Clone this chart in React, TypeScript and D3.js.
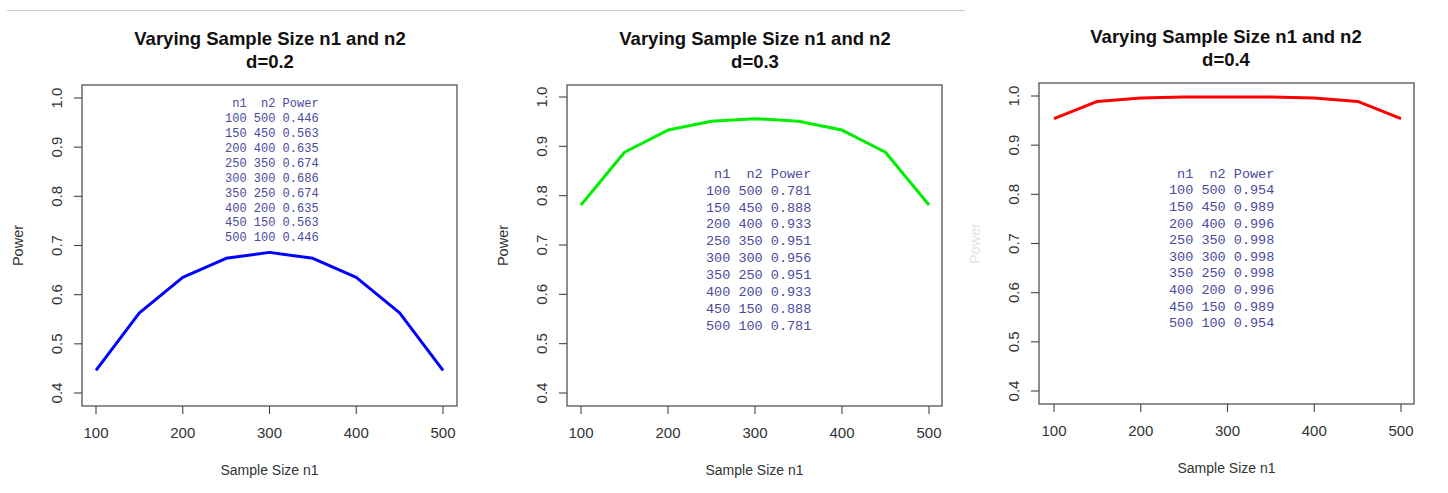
import React from 'react'
import * as d3 from 'd3'

const n1 = [100, 150, 200, 250, 300, 350, 400, 450, 500]
const n2 = [500, 450, 400, 350, 300, 250, 200, 150, 100]
const power02 = [0.446, 0.563, 0.635, 0.674, 0.686, 0.674, 0.635, 0.563, 0.446]
const power03 = [0.781, 0.888, 0.933, 0.951, 0.956, 0.951, 0.933, 0.888, 0.781]
const power04 = [0.954, 0.989, 0.996, 0.998, 0.998, 0.998, 0.996, 0.989, 0.954]
const xTicks = [100, 200, 300, 400, 500]
const yTicks = [0.4, 0.5, 0.6, 0.7, 0.8, 0.9, 1.0]

interface PanelProps {
  power: number[]
  subtitle: string
  color: string
  box: { left: number; right: number; top: number; bottom: number }
  xRange: [number, number]
  yRange: [number, number]
  table: { x: number; y: number; step: number; size: number }
  titleX: number
  titleY: number
  yLabelColor?: string
}

const axisColor = '#444'
const textColor = '#333'
const sans = 'Liberation Sans, Arial, sans-serif'

const Panel: React.FC<PanelProps> = ({ power, subtitle, color, box, xRange, yRange, table, titleX, titleY, yLabelColor = textColor }) => {
  const x = d3.scaleLinear().domain([100, 500]).range(xRange)
  const y = d3.scaleLinear().domain([0.4, 1.0]).range(yRange)
  const line = d3.line<number>()
    .x((_, i) => x(n1[i]))
    .y(d => y(d))

  // rows of the printed table, header padded like R's print
  const rows = [' n1  n2 Power'].concat(
    n1.map((v, i) => `${v} ${n2[i]} ${power[i].toFixed(3)}`)
  )
  const midY = (box.top + box.bottom) / 2

  return (
    <g>
      <text x={titleX} y={titleY} textAnchor="middle" fontFamily={sans} fontWeight="bold" fontSize={18.5} fill="#111">
        Varying Sample Size n1 and n2
      </text>
      <text x={titleX} y={titleY + 23} textAnchor="middle" fontFamily={sans} fontWeight="bold" fontSize={18.5} fill="#111">
        {subtitle}
      </text>
      <rect x={box.left} y={box.top} width={box.right - box.left} height={box.bottom - box.top} fill="none" stroke={axisColor} strokeWidth={1.2} />
      {yTicks.map(t => (
        <g key={t}>
          <line x1={box.left - 8} x2={box.left} y1={y(t)} y2={y(t)} stroke={axisColor} strokeWidth={1.1} />
          <text transform={`translate(${box.left - 25},${y(t)}) rotate(-90)`} textAnchor="middle" dy="0.35em" fontFamily={sans} fontSize={15} fill={textColor}>
            {t.toFixed(1)}
          </text>
        </g>
      ))}
      {xTicks.map(t => (
        <g key={t}>
          <line x1={x(t)} x2={x(t)} y1={box.bottom} y2={box.bottom + 8} stroke={axisColor} strokeWidth={1.1} />
          <text x={x(t)} y={box.bottom + 27} textAnchor="middle" dy="0.35em" fontFamily={sans} fontSize={15} fill={textColor}>
            {t}
          </text>
        </g>
      ))}
      <text x={(box.left + box.right) / 2} y={box.bottom + 64} textAnchor="middle" dy="0.35em" fontFamily={sans} fontSize={14} fill={textColor}>
        Sample Size n1
      </text>
      <text transform={`translate(${box.left - 64},${midY}) rotate(-90)`} textAnchor="middle" dy="0.35em" fontFamily={sans} fontSize={14.5} fill={yLabelColor}>
        Power
      </text>
      {rows.map((r, i) => (
        <text key={i} x={table.x} y={table.y + i * table.step} dy="0.35em" fontFamily="Liberation Mono, Courier New, monospace" fontSize={table.size} fill="#4a4aa0" xmlSpace="preserve" style={{ whiteSpace: 'pre' }}>
          {r}
        </text>
      ))}
      <path d={line(power) ?? ''} fill="none" stroke={color} strokeWidth={3} strokeLinejoin="round" />
    </g>
  )
}

export default function App() {
  return (
    <svg width={1448} height={493} style={{ position: 'absolute', left: 0, top: 0, background: '#fff' }}>
      <line x1={7} x2={965} y1={10.5} y2={10.5} stroke="#c8c8c8" strokeWidth={1} />
      <Panel
        power={power02}
        subtitle="d=0.2"
        color="#0000ff"
        box={{ left: 82, right: 457, top: 85, bottom: 406 }}
        xRange={[96, 443]}
        yRange={[393, 98]}
        table={{ x: 225, y: 103, step: 14.9, size: 12 }}
        titleX={270}
        titleY={45}
      />
      <Panel
        power={power03}
        subtitle="d=0.3"
        color="#00ee00"
        box={{ left: 567, right: 942, top: 85, bottom: 406 }}
        xRange={[581, 929]}
        yRange={[393, 97]}
        table={{ x: 706, y: 173, step: 16.9, size: 13.5 }}
        titleX={755}
        titleY={45}
      />
      <Panel
        power={power04}
        subtitle="d=0.4"
        color="#ff0000"
        box={{ left: 1039, right: 1414, top: 83, bottom: 404 }}
        xRange={[1054, 1401]}
        yRange={[391, 96]}
        table={{ x: 1169, y: 173, step: 16.6, size: 13.5 }}
        titleX={1226}
        titleY={43}
        yLabelColor="#e4e4e4"
      />
    </svg>
  )
}
